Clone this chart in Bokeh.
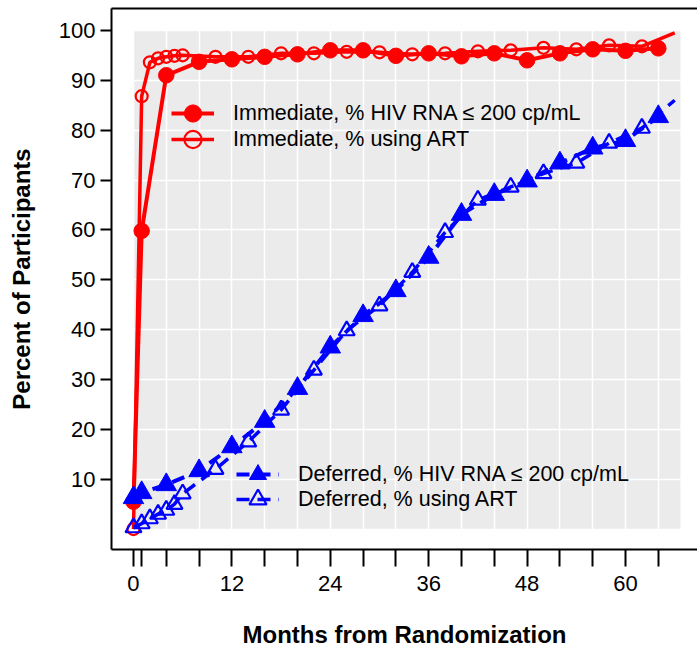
from bokeh.plotting import figure
from bokeh.models import Range1d, FixedTicker, LinearAxis, BoxAnnotation, Legend, LegendItem
from bokeh.embed import file_html
from bokeh.resources import INLINE

# ---- data ----
months_rna = [0, 1, 4, 8, 12, 16, 20, 24, 28, 32, 36, 40, 44, 48, 52, 56, 60, 64]
imm_rna = [5.5, 59.8, 91.0, 93.7, 94.2, 94.7, 95.2, 96.0, 96.0, 94.9, 95.4, 94.8,
           95.4, 94.0, 95.4, 96.2, 95.9, 96.4]
def_rna = [6.3, 7.3, 8.9, 11.7, 16.5, 21.6, 28.2, 36.5, 42.8, 47.8, 54.5, 63.1,
           67.1, 69.8, 73.4, 76.4, 77.9, 82.7]

months_art = [0, 1, 2, 3, 4, 5, 6, 10, 14, 18, 22, 26, 30, 34, 38, 42, 46, 50, 54, 58, 62]
imm_art = [0.0, 86.8, 93.6, 94.4, 94.7, 94.9, 95.0, 94.7, 94.7, 95.4, 95.4, 95.7,
           95.6, 95.2, 95.4, 95.8, 96.0, 96.5, 96.2, 97.0, 96.8]
def_art = [0.3, 1.1, 2.1, 3.0, 3.8, 5.0, 7.1, 12.0, 17.5, 23.9, 31.9, 39.8,
           44.8, 51.5, 59.5, 66.0, 68.6, 71.3, 73.4, 77.4, 80.4]
# last (unmarked) point of the ART lines
art_end_month = 66
imm_art_end = 99.5
def_art_end = 86.0

x_ticks = [0, 1, 4, 8, 12, 16, 20, 24, 28, 32, 36, 40, 44, 48, 52, 56, 60, 64]
x_tick_labels = ["0", "", "", "", "12", "", "", "24", "", "", "36", "", "", "48", "", "", "60", ""]
y_ticks = [10, 20, 30, 40, 50, 60, 70, 80, 90, 100]
grid_x = [0, 4, 8, 12, 16, 20, 24, 28, 32, 36, 40, 44, 48, 52, 56, 60, 64]
grid_y = [0, 10, 20, 30, 40, 50, 60, 70, 80, 90, 100]

legend_imm = ["Immediate, % HIV RNA \u2264 200 cp/mL", "Immediate, % using ART"]
legend_def = ["Deferred, % HIV RNA \u2264 200 cp/mL", "Deferred, % using ART"]

FONT = "Liberation Sans"
RED = "#FF0000"
BLUE = "#0000FF"

p = figure(width=697, height=650,
           x_range=Range1d(-2.68, 68.78), y_range=Range1d(-4.09, 104.39),
           output_backend="svg", toolbar_location=None,
           min_border_left=111, min_border_right=0, min_border_top=8, min_border_bottom=98)
p.outline_line_color = None
p.background_fill_color = "white"
p.border_fill_color = "white"

# gray panel
panel = BoxAnnotation(left=0, right=66.7, bottom=0, top=100, fill_color="#EBEBEB",
                      fill_alpha=1.0, line_color=None, level="image")
p.add_layout(panel)

# grid
p.xgrid.ticker = FixedTicker(ticks=grid_x)
p.xgrid.bounds = (0, 100)
p.ygrid.ticker = FixedTicker(ticks=grid_y)
p.ygrid.bounds = (0, 66.7)
for g in (p.xgrid, p.ygrid):
    g.grid_line_color = "white"
    g.grid_line_width = 1.5

# x axis
xa = p.xaxis[0]
xa.ticker = FixedTicker(ticks=x_ticks)
xa.major_label_overrides = {t: l for t, l in zip(x_ticks, x_tick_labels)}
xa.minor_tick_line_color = None
xa.major_tick_in = 0
xa.major_tick_out = 17
xa.major_tick_line_width = 2
xa.major_tick_line_color = "black"
xa.axis_line_width = 2
xa.axis_line_color = "black"
xa.major_label_text_font = FONT
xa.major_label_text_font_size = "22px"
xa.major_label_text_color = "black"
xa.major_label_standoff = 9
xa.axis_label = "Months from Randomization"
xa.axis_label_text_font = FONT
xa.axis_label_text_font_size = "24px"
xa.axis_label_text_font_style = "bold"
xa.axis_label_text_color = "black"
xa.axis_label_standoff = 27

# y axis
ya = p.yaxis[0]
ya.ticker = FixedTicker(ticks=y_ticks)
ya.minor_tick_line_color = None
ya.major_tick_in = 0
ya.major_tick_out = 11
ya.major_tick_line_width = 2
ya.major_tick_line_color = "black"
ya.axis_line_width = 2
ya.axis_line_color = "black"
ya.major_label_text_font = FONT
ya.major_label_text_font_size = "22px"
ya.major_label_text_color = "black"
ya.major_label_standoff = 5
ya.axis_label = "Percent of Participants"
ya.axis_label_text_font = FONT
ya.axis_label_text_font_size = "24px"
ya.axis_label_text_font_style = "bold"
ya.axis_label_text_color = "black"
ya.axis_label_standoff = 21

# top border line
top = LinearAxis(ticker=FixedTicker(ticks=[]), major_label_text_font_size="0px",
                 major_tick_in=0, major_tick_out=0, minor_tick_in=0, minor_tick_out=0,
                 major_label_standoff=0, axis_line_width=2, axis_line_color="black")
p.add_layout(top, "above")

DASH = "13 8"

# Immediate
l_imm_rna = p.line(months_rna, imm_rna, line_color=RED, line_width=4)
m_imm_rna = p.scatter(months_rna, imm_rna, marker="circle", size=15.5,
                      fill_color=RED, line_color=RED, line_width=1)
l_imm_art = p.line(months_art + [art_end_month], imm_art + [imm_art_end],
                   line_color=RED, line_width=3.5)
m_imm_art = p.scatter(months_art, imm_art, marker="circle", size=12,
                      fill_color=None, line_color=RED, line_width=2.2)

# Deferred
l_def_rna = p.line(months_rna, def_rna, line_color=BLUE, line_width=4, line_dash=DASH)
m_def_rna = p.scatter(months_rna, def_rna, marker="triangle", size=20.5,
                      fill_color=BLUE, line_color=BLUE, line_width=1)
l_def_art = p.line(months_art + [art_end_month], def_art + [def_art_end],
                   line_color=BLUE, line_width=3.5, line_dash=DASH)
m_def_art = p.scatter(months_art, def_art, marker="triangle", size=16,
                      fill_color=None, line_color=BLUE, line_width=2.2)

def add_legend_row(label, rends, loc):
    lg = Legend(items=[LegendItem(label=label, renderers=rends)], location=loc,
                glyph_width=43, glyph_height=48, label_height=48, spacing=0,
                label_standoff=19, padding=0, margin=0,
                border_line_color=None, background_fill_alpha=0,
                label_text_font=FONT, label_text_font_size="21.5px",
                label_text_color="black")
    p.add_layout(lg)

add_legend_row(legend_imm[0], [l_imm_rna, m_imm_rna], (60, 412))
add_legend_row(legend_imm[1], [l_imm_art, m_imm_art], (60, 386))
add_legend_row(legend_def[0], [l_def_rna, m_def_rna], (125, 51))
add_legend_row(legend_def[1], [l_def_art, m_def_art], (125, 26))

open("out.html", "w").write(file_html(p, INLINE))
